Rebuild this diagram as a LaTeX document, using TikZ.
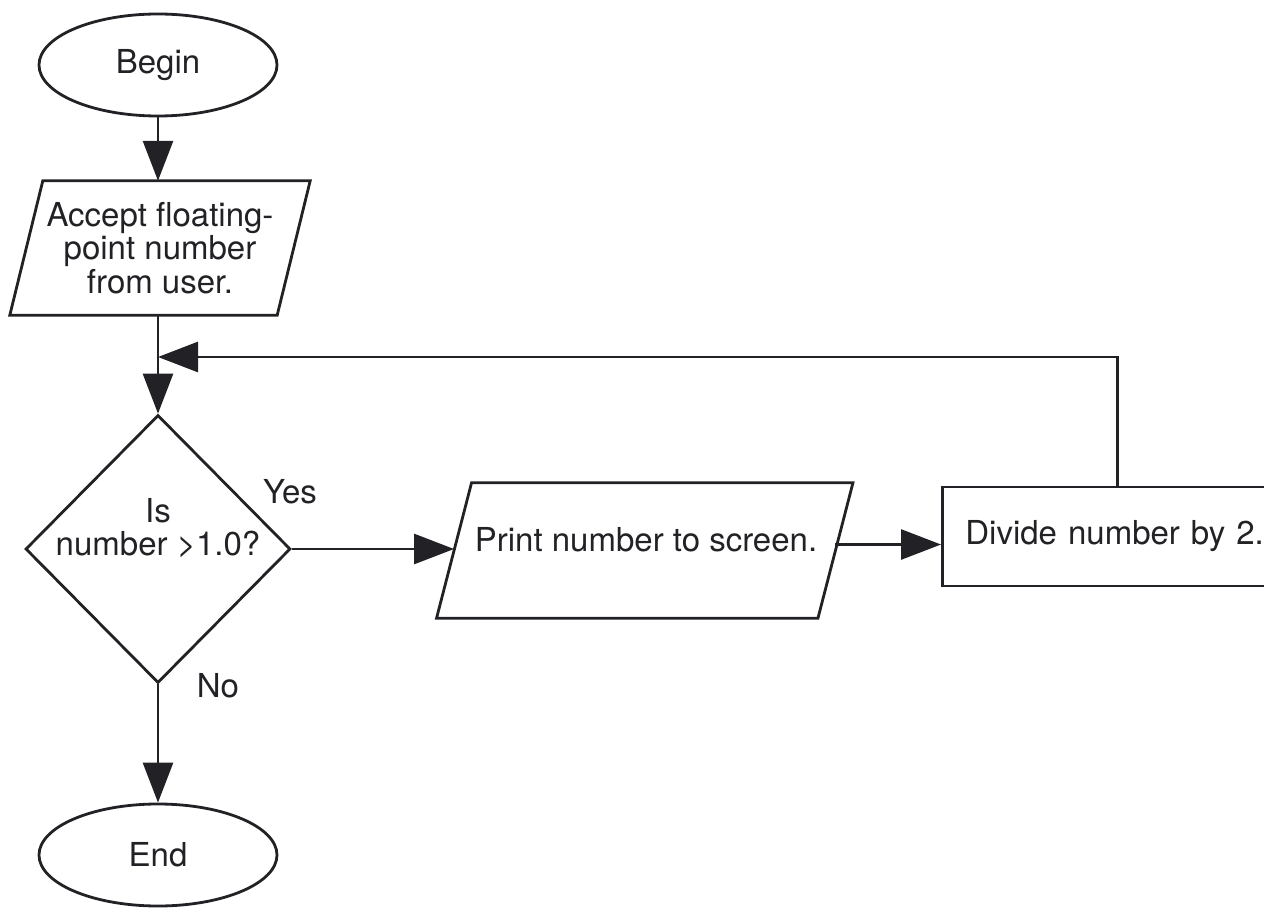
\documentclass[tikz,border=0pt]{standalone}
\usepackage{fontspec}
\setmainfont{TeX Gyre Heros}
\usetikzlibrary{shapes.geometric,arrows.meta}
\definecolor{ink}{HTML}{222226}
\begin{document}
\begin{tikzpicture}[x=1pt,y=-1pt,
  every node/.style={font=\fontsize{33}{33.5}\selectfont, text=ink},
  line/.style={draw=ink, line width=2.8pt},
  arr/.style={line, -{Triangle[length=40pt,width=30pt]}},
  term/.style={ellipse, draw=ink, line width=2.8pt, minimum width=238pt, minimum height=102pt, inner sep=0pt},
  iobox/.style={minimum width=#1, inner sep=0pt, align=center},
  decision/.style={diamond, draw=ink, line width=2.8pt, minimum width=265pt, minimum height=268pt, inner sep=0pt},
  procbox/.style={draw=ink, line width=2.8pt, minimum height=99pt, minimum width=350pt, text width=304pt, inner xsep=23pt, align=left, anchor=west},
  lbl/.style={inner sep=0pt}
]
\useasboundingbox (0,0) rectangle (1264,909);

% nodes
\node[term] (begin) at (158,65) {Begin};
\node[iobox=267pt, minimum height=134pt] (acc) at (160,248) {Accept floating-\\point number\\from user.};
\draw[line] ([xshift=16.5pt]acc.north west) -- ([xshift=16.5pt]acc.north east)
  -- ([xshift=-16.5pt]acc.south east) -- ([xshift=-16.5pt]acc.south west) -- cycle;
\node[decision] (dec) at (158,549) {};
\node[lbl, align=center] (dectext) at (158,528) {Is\\number >1.0?};
\node[iobox=381pt, minimum height=135pt] (print) at (644.75,550.5) {};
\draw[line] ([xshift=17.5pt]print.north west) -- ([xshift=17.5pt]print.north east)
  -- ([xshift=-17.5pt]print.south east) -- ([xshift=-17.5pt]print.south west) -- cycle;
\node[lbl] (printtext) at (646,540) {Print number to screen.};
\node[procbox] (div) at (941,536.5) {Divide number by 2.};
\node[term] (end) at (158,855) {End};
\node[lbl] (yes) at (290,492) {Yes};
\node[lbl] (no) at (218,686) {No};
\coordinate (join) at (158,357);

% connectors
\draw[arr] (begin.south) -- (begin.south |- acc.north);
\draw[arr] (begin.south |- acc.south) -- (dec.north);
\draw[arr] (div.north) |- (join);
\draw[arr] (dec.east) -- (dec.east -| print.west);
\draw[arr] ([yshift=6pt]print.east) -- ([yshift=6pt]print.east -| div.west);
\draw[arr] (dec.south) -- (end.north);
\end{tikzpicture}
\end{document}
